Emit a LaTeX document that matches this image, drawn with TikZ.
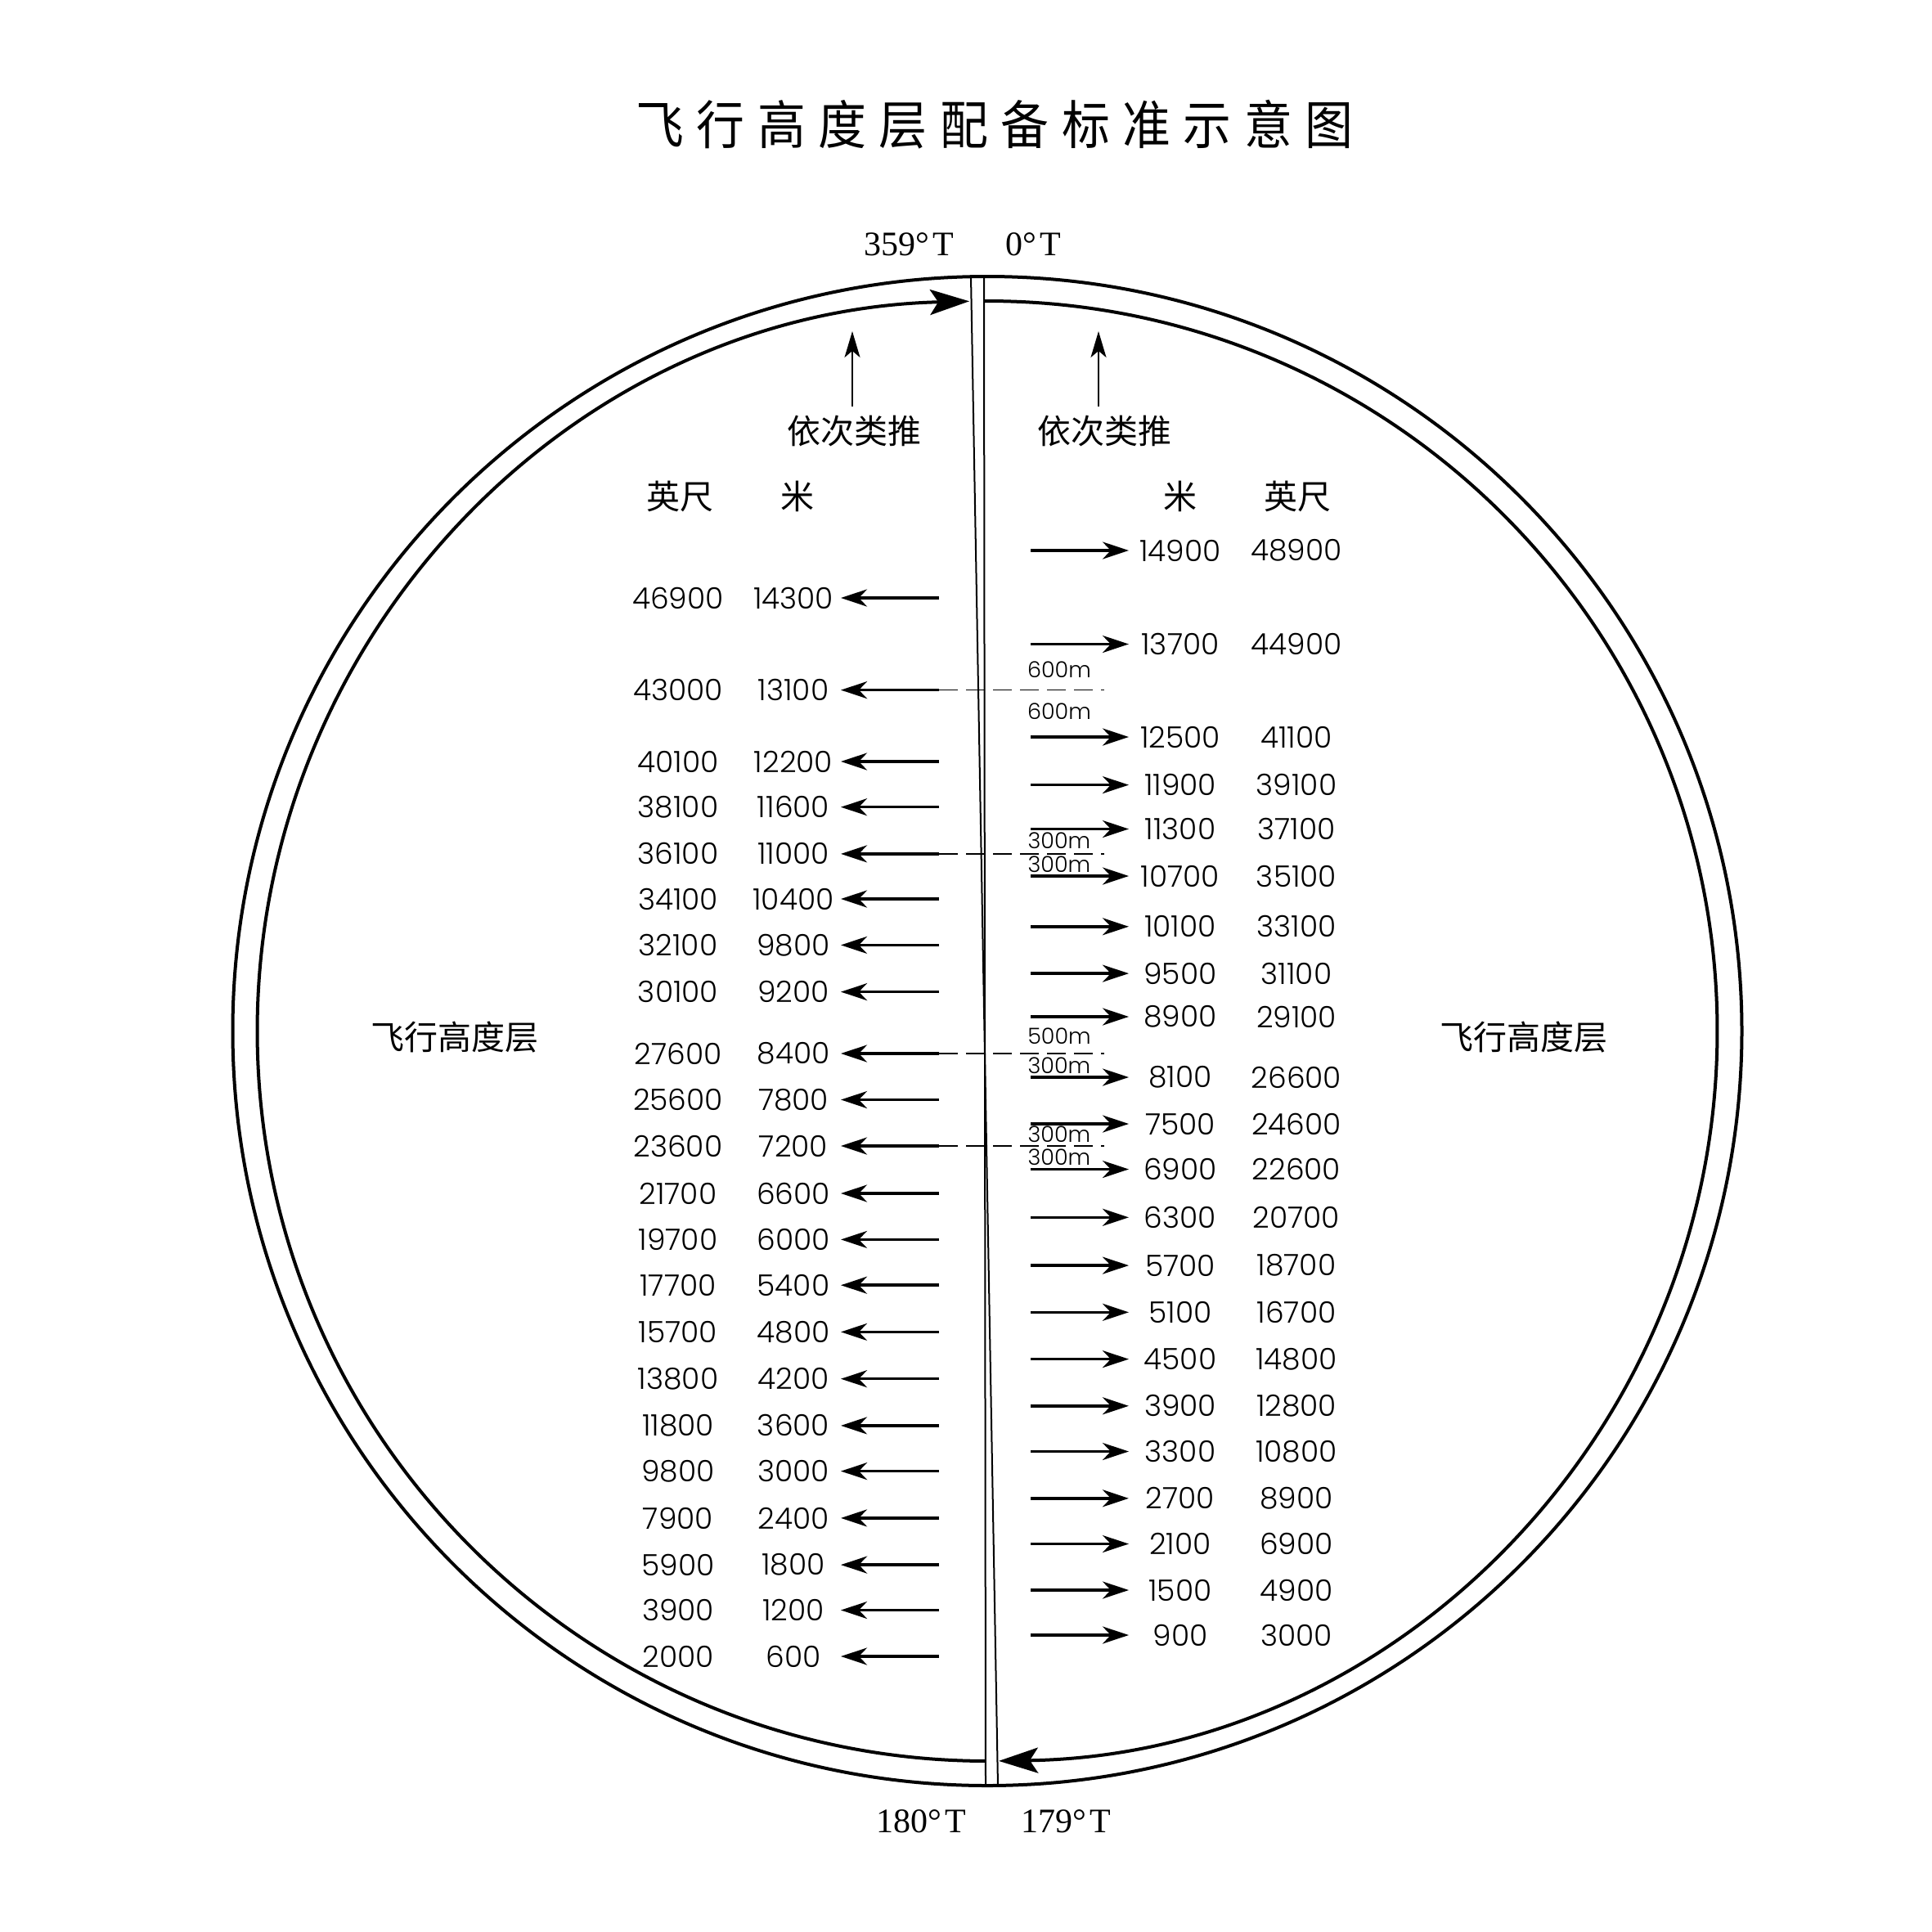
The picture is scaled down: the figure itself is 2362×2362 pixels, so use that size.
\documentclass[tikz,border=0pt]{standalone}
\usepackage{fontspec}
\usetikzlibrary{arrows.meta}
\newfontfamily\cjk{Noto Sans CJK SC}
\newfontfamily\cjktitle{Noto Sans CJK SC}[FakeStretch=0.92]
\newfontfamily\numf{Poppins Light}
\newfontfamily\serf{Liberation Serif}
\newcommand\tsp{\hspace{15.5pt}}
\begin{document}
\begin{tikzpicture}[x=1pt,y=-1pt,
  num/.style={font=\numf\fontsize{36}{36}\selectfont, inner sep=0pt},
  lab/.style={font=\cjk\fontsize{41}{41}\selectfont, inner sep=0pt},
  small/.style={font=\numf\fontsize{27}{27}\selectfont, inner sep=0pt},
  deg/.style={font=\serf\fontsize{42}{42}\selectfont, inner sep=0pt},
  rowarrow/.style={line width=3.5pt, -{Stealth[length=32pt,width=21pt,inset=10pt]}},
  ring/.style={line width=4pt},
  ringarrow/.style={line width=4pt, -{Stealth[length=48pt,width=31pt,inset=10pt]}},
  uparrow/.style={line width=1.6pt, -{Stealth[length=32pt,width=19pt,inset=8pt]}},
  divider/.style={line width=2pt},
  guide/.style={line width=1.5pt, dash pattern=on 23pt off 10pt},
]
\useasboundingbox[fill=white] (0,0) rectangle (2362,2362);

% title
\node[font=\cjktitle\fontsize{64}{64}\selectfont, inner sep=0pt] (title) at (1216,152)
  {飞\tsp 行\tsp 高\tsp 度\tsp 层\tsp 配\tsp 备\tsp 标\tsp 准\tsp 示\tsp 意\tsp 图};

% rings
\coordinate (C) at (1207,1260.5);
\draw[ring] (C) circle[radius=922.5];
\draw[ringarrow] ([shift={(90.13:892.5)}]C) arc[start angle=90.13, end angle=268.59, radius=892.5];
\draw[ringarrow] ([shift={(269.74:892.5)}]C) arc[start angle=269.74, end angle=449.1, radius=892.5];

% divider
\coordinate (dvt) at (1203,338);
\coordinate (dvb) at (1205,2183);
\coordinate (dst) at (1187,338);
\coordinate (dsb) at (1220,2183);
\draw[divider] (dvt) -- (dvb);
\draw[divider] (dst) -- (dsb);

% direction labels
\node[deg] (d359) at (1111,299) {359°\kern4pt T};
\node[deg] (d0) at (1263,299) {0°\kern4pt T};
\node[deg] (d180) at (1126,2227) {180°\kern4pt T};
\node[deg] (d179) at (1303,2227) {179°\kern4pt T};

% "and so on"
\node[lab] (etcL) at (1044,527) {依次类推};
\node[lab] (etcR) at (1350,527) {依次类推};
\coordinate (upLb) at (1042,497);
\coordinate (upLt) at (1042,405);
\coordinate (upRb) at (1343,497);
\coordinate (upRt) at (1343,405);
\draw[uparrow] (upLb) -- (upLt);
\draw[uparrow] (upRb) -- (upRt);

% headers
\node[lab] (hLft) at (831,607) {英尺};
\node[lab] (hLm) at (975,607) {米};
\node[lab] (hRm) at (1443,607) {米};
\node[lab] (hRft) at (1586,607) {英尺};

% side labels
\node[lab] (sideL) at (556,1268) {飞行高度层};
\node[lab] (sideR) at (1863,1268) {飞行高度层};

% dashed guides
\foreach \y [count=\i] in {843.6,1043.9,1288,1401} {
  \coordinate (gs\i) at (1148,\y);
  \coordinate (ge\i) at (1350,\y);
  \draw[guide] (gs\i) -- (ge\i);
}

% left rows (westbound)
\foreach \y/\f/\m [count=\i] in {
  731/46900/14300, 843.6/43000/13100, 931/40100/12200, 986.7/38100/11600,
  1043.9/36100/11000, 1099/34100/10400, 1155.4/32100/9800, 1212.6/30100/9200,
  1288/27600/8400, 1344.5/25600/7800, 1401/23600/7200, 1459/21700/6600,
  1515.4/19700/6000, 1571.2/17700/5400, 1628.4/15700/4800, 1685.7/13800/4200,
  1742.9/11800/3600, 1798.6/9800/3000, 1855.9/7900/2400, 1913.1/5900/1800,
  1968.5/3900/1200, 2025/2000/600} {
  \node[num] (lf\i) at (829,\y) {\f};
  \node[num] (lm\i) at (970,\y) {\m};
  \coordinate (lt\i) at (1148,\y);
  \coordinate (lh\i) at (1028,\y);
  \draw[rowarrow] (lt\i) -- (lh\i);
}

% right rows (eastbound)
\foreach \y/\m/\f [count=\i] in {
  673/14900/48900, 787.5/13700/44900, 901/12500/41100, 959.6/11900/39100,
  1013.5/11300/37100, 1071/10700/35100, 1132.8/10100/33100, 1190.1/9500/31100,
  1243/8900/29100, 1317/8100/26600, 1374/7500/24600, 1429.5/6900/22600,
  1488.3/6300/20700, 1547.1/5700/18700, 1604.3/5100/16700, 1661.6/4500/14800,
  1718.8/3900/12800, 1774.5/3300/10800, 1831.8/2700/8900, 1887.5/2100/6900,
  1944/1500/4900, 1999/900/3000} {
  \node[num] (rm\i) at (1443,\y) {\m};
  \node[num] (rf\i) at (1585,\y) {\f};
  \coordinate (rt\i) at (1260,\y);
  \coordinate (rh\i) at (1380,\y);
  \draw[rowarrow] (rt\i) -- (rh\i);
}

% separation labels
\node[small] (s1) at (1295,819) {600m};
\node[small] (s2) at (1295,870) {600m};
\node[small] (s3) at (1295,1028) {300m};
\node[small] (s4) at (1295,1057) {300m};
\node[small] (s5) at (1295,1267) {500m};
\node[small] (s6) at (1295,1303) {300m};
\node[small] (s7) at (1295,1387) {300m};
\node[small] (s8) at (1295,1415) {300m};
\end{tikzpicture}
\end{document}
